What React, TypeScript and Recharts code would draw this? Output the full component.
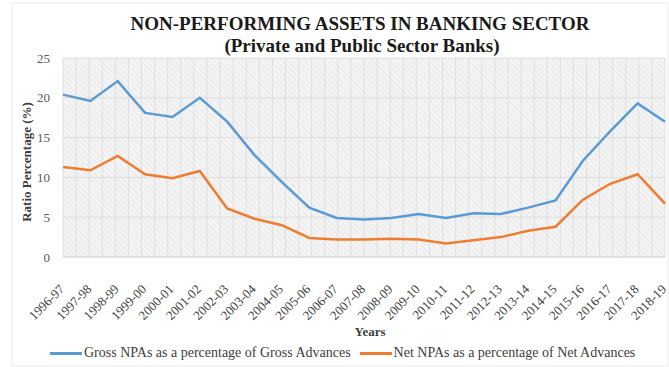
import React from 'react';
import { LineChart, Line, XAxis, YAxis, CartesianGrid, Legend, Label } from 'recharts';

// NPA ratios (%)
const years = [
  '1996-97', '1997-98', '1998-99', '1999-00', '2000-01', '2001-02', '2002-03', '2003-04',
  '2004-05', '2005-06', '2006-07', '2007-08', '2008-09', '2009-10', '2010-11', '2011-12',
  '2012-13', '2013-14', '2014-15', '2015-16', '2016-17', '2017-18', '2018-19',
];
const grossNpa = [
  20.4, 19.6, 22.1, 18.1, 17.6, 20.0, 17.0, 12.8, 9.4, 6.2, 4.9, 4.7,
  4.9, 5.4, 4.9, 5.5, 5.4, 6.2, 7.1, 12.1, 15.8, 19.3, 17.0,
];
const netNpa = [
  11.3, 10.9, 12.7, 10.4, 9.9, 10.8, 6.1, 4.8, 4.0, 2.4, 2.2, 2.2,
  2.3, 2.2, 1.7, 2.1, 2.5, 3.3, 3.8, 7.2, 9.2, 10.4, 6.7,
];
const yTicks = [0, 5, 10, 15, 20, 25];

const GROSS_COLOR = '#5b9bd5';
const NET_COLOR = '#ed7d31';
const FONT = '"Liberation Serif", "Times New Roman", serif';

const data = years.map((year, i) => ({ year, gross: grossNpa[i], net: netNpa[i] }));

// rotated year labels, hanging below the axis like the Excel original
const YearTick = ({ x, y, payload }: any) => {
  const ax = x + 2;
  const ay = y + 33;
  return (
    <text
      x={ax}
      y={ay}
      transform={`rotate(-45 ${ax} ${ay})`}
      textAnchor="end"
      fontFamily={FONT}
      fontSize={13}
      fill="#404040"
    >
      {payload.value}
    </text>
  );
};

const LegendContent = ({ payload }: any) => (
  <div style={{ display: 'flex', paddingLeft: 50, height: 28, alignItems: 'center', fontFamily: FONT, fontSize: 14, color: '#404040' }}>
    {(payload || []).map((entry: any) => (
      <div key={entry.value} style={{ display: 'flex', alignItems: 'center', marginRight: 9 }}>
        <span style={{ display: 'inline-block', width: 32, height: 3, background: entry.color }} />
        <span style={{ marginLeft: 2 }}>{entry.value}</span>
      </div>
    ))}
  </div>
);

export default function App() {
  return (
    <div style={{ position: 'absolute', top: 0, left: 0, background: '#fff' }}>
      <LineChart width={669} height={367} data={data} margin={{ top: 58, right: 4, left: 0, bottom: 0 }}>
        <defs>
          <pattern id="hatch" width="4" height="4" patternUnits="userSpaceOnUse" patternTransform="rotate(-45)">
            <rect width="4" height="4" fill="#f4f4f4" />
            <line x1="0" y1="0" x2="0" y2="4" stroke="#e6e6e6" strokeWidth="1.5" />
          </pattern>
        </defs>
        <rect x={12} y={3} width={656} height={363} fill="none" stroke="#ececec" />
        <text x={360} y={30} textAnchor="middle" fontFamily={FONT} fontSize={19} fontWeight="bold" fill="#1a1a1a">
          NON-PERFORMING ASSETS IN BANKING SECTOR
        </text>
        <text x={362} y={52} textAnchor="middle" fontFamily={FONT} fontSize={19} fontWeight="bold" fill="#1a1a1a">
          (Private and Public Sector Banks)
        </text>
        <text
          x={31}
          y={162}
          transform="rotate(-90 31 162)"
          textAnchor="middle"
          fontFamily={FONT}
          fontSize={13}
          fontWeight="bold"
          fill="#404040"
        >
          Ratio Percentage (%)
        </text>
        <CartesianGrid
          fill="url(#hatch)"
          fillOpacity={1}
          stroke="#dedede"
          verticalCoordinatesGenerator={({ offset }: any) =>
            Array.from({ length: years.length * 2 + 1 }, (_, i) => offset.left + (i * offset.width) / (years.length * 2))
          }
        />
        <XAxis
          dataKey="year"
          interval={0}
          height={82}
          tickLine={false}
          tickSize={0}
          tickMargin={0}
          axisLine={{ stroke: '#d9d9d9' }}
          tick={<YearTick />}
        >
          <Label
            value="Years"
            position="insideBottom"
            offset={3}
            dx={6}
            style={{ fontFamily: FONT, fontSize: 13, fontWeight: 'bold', fill: '#404040' }}
          />
        </XAxis>
        <YAxis
          width={63}
          domain={[0, 25]}
          ticks={yTicks}
          axisLine={false}
          tickLine={false}
          tickSize={0}
          tickMargin={13}
          tick={{ fontFamily: FONT, fontSize: 13, fill: '#595959' }}
        />
        <Legend verticalAlign="bottom" content={<LegendContent />} />
        <Line
          type="linear"
          dataKey="gross"
          name="Gross NPAs as a percentage of Gross Advances"
          stroke={GROSS_COLOR}
          strokeWidth={2.5}
          dot={false}
          isAnimationActive={false}
        />
        <Line
          type="linear"
          dataKey="net"
          name="Net NPAs as a percentage of Net Advances"
          stroke={NET_COLOR}
          strokeWidth={2.5}
          dot={false}
          isAnimationActive={false}
        />
      </LineChart>
    </div>
  );
}
